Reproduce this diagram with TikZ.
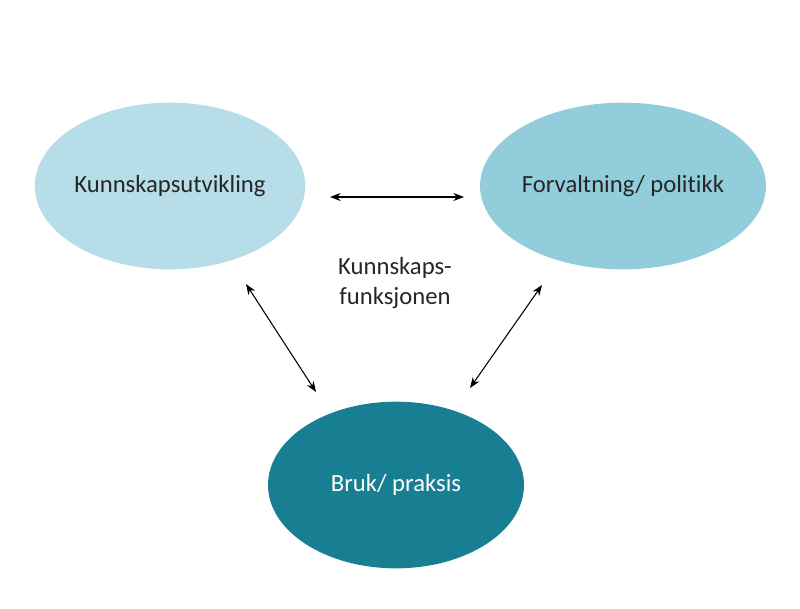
\documentclass[tikz,border=0pt]{standalone}
\usepackage{fontspec}
\setmainfont{Carlito}[Ligatures=NoCommon]
\usetikzlibrary{shapes.geometric,arrows.meta}
\definecolor{cA}{HTML}{B7DEE8}
\definecolor{cB}{HTML}{92CDDC}
\definecolor{cC}{HTML}{177F91}
\begin{document}
\begin{tikzpicture}[x=0.75pt,y=-0.75pt,
  blob/.style={ellipse,minimum width=192pt,minimum height=125pt,inner sep=0pt,font=\fontsize{18.5}{22}\selectfont},
  link/.style={<->,>={Stealth[length=8pt,width=6pt]},line width=0.8pt}]
\useasboundingbox (0,0) rectangle (800,608);
\node[blob,fill=cA,text=black!85] (ku) at (170,186) {Kunnskapsutvikling};
\node[blob,fill=cB,text=black!85] (fp) at (623,186) {Forvaltning/ politikk};
\node[blob,fill=cC,text=white] (bp) at (396,485) {Bruk/ praksis};
\node[align=center,font=\fontsize{18.5}{22.5}\selectfont,text=black!85] (kf) at (395,283) {Kunnskaps-\\funksjonen};
\coordinate (a1) at (330,197); \coordinate (a2) at (464,197);
\coordinate (b1) at (246,284); \coordinate (b2) at (316,392);
\coordinate (c1) at (542,285); \coordinate (c2) at (470,388);
\draw[link] (a1) -- (a2);
\draw[link] (b1) -- (b2);
\draw[link] (c1) -- (c2);
\end{tikzpicture}
\end{document}
